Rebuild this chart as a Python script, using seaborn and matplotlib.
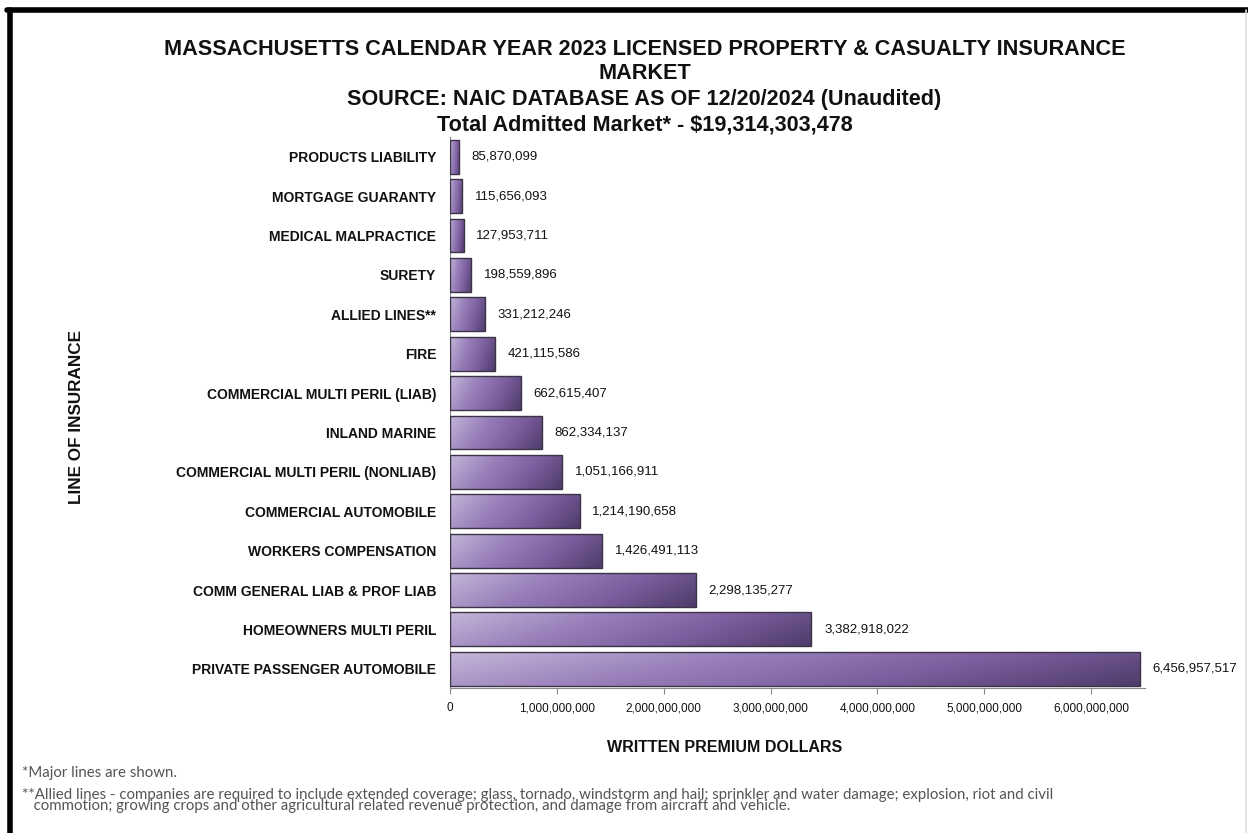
import numpy as np
import pandas as pd
import matplotlib
matplotlib.use("Agg")
import matplotlib.pyplot as plt
from matplotlib.colors import LinearSegmentedColormap
from matplotlib.ticker import FuncFormatter, MultipleLocator
from matplotlib.lines import Line2D
import seaborn as sns

# Lines of insurance and 2023 written premium (USD)
lines = [
    "PRODUCTS LIABILITY",
    "MORTGAGE GUARANTY",
    "MEDICAL MALPRACTICE",
    "SURETY",
    "ALLIED LINES**",
    "FIRE",
    "COMMERCIAL MULTI PERIL (LIAB)",
    "INLAND MARINE",
    "COMMERCIAL MULTI PERIL (NONLIAB)",
    "COMMERCIAL AUTOMOBILE",
    "WORKERS COMPENSATION",
    "COMM GENERAL LIAB & PROF LIAB",
    "HOMEOWNERS MULTI PERIL",
    "PRIVATE PASSENGER AUTOMOBILE",
]
premiums = [
    85870099,
    115656093,
    127953711,
    198559896,
    331212246,
    421115586,
    662615407,
    862334137,
    1051166911,
    1214190658,
    1426491113,
    2298135277,
    3382918022,
    6456957517,
]

title_lines = [
    "MASSACHUSETTS CALENDAR YEAR 2023 LICENSED PROPERTY & CASUALTY INSURANCE",
    "MARKET",
    "SOURCE: NAIC DATABASE AS OF 12/20/2024 (Unaudited)",
    "Total Admitted Market* - $19,314,303,478",
]
footnote_1 = "*Major lines are shown."
footnote_2 = ("**Allied lines - companies are required to include extended coverage; glass, tornado, windstorm and hail; "
              "sprinkler and water damage; explosion, riot and civil\n"
              "   commotion; growing crops and other agricultural related revenue protection, and damage from aircraft and vehicle.")

df = pd.DataFrame({"line": lines, "premium": premiums})

sns.set_theme(style="white")
plt.rcParams["font.family"] = ["Liberation Sans", "DejaVu Sans"]

fig = plt.figure(figsize=(12.48, 8.33), dpi=100)
ax = fig.add_axes([0.3606, 0.1735, 0.5565, 0.662])

sns.barplot(data=df, y="line", x="premium", orient="h", ax=ax,
            width=0.86, color="#7e63a0", edgecolor="#3b3346", linewidth=1.0)

# Diagonal lavender-to-plum gradient inside each bar
cmap = LinearSegmentedColormap.from_list(
    "plum", ["#c4b6d9", "#9a81bb", "#7a5e9d", "#4f3b6b"])
gx, gy = np.meshgrid(np.linspace(0, 1, 256), np.linspace(0, 1, 32))
grad = 0.8 * gx + 0.2 * gy
for patch in ax.patches:
    x0, y0 = patch.get_x(), patch.get_y()
    w, h = patch.get_width(), patch.get_height()
    patch.set_facecolor("none")
    patch.set_zorder(3)
    im = ax.imshow(grad, extent=(x0, x0 + w, y0 + h, y0), aspect="auto",
                   cmap=cmap, vmin=0, vmax=1, zorder=2, interpolation="bilinear")
    im.set_clip_path(patch)

ax.set_xlim(0, 6.5e9)
ax.set_ylim(len(lines) - 0.5, -0.5)
ax.set_aspect("auto")

# Value labels at the end of each bar
for i, v in enumerate(premiums):
    ax.annotate(f"{v:,}", xy=(v, i), xytext=(9, 0), textcoords="offset points",
                va="center", ha="left", fontsize=9.5, color="#111111")

ax.xaxis.set_major_locator(MultipleLocator(1e9))
ax.xaxis.set_major_formatter(FuncFormatter(lambda x, p: f"{int(x):,}"))
ax.tick_params(axis="x", labelsize=8.5, length=4, width=0.8, color="#888888",
               direction="out", bottom=True, pad=6, labelcolor="#111111")
ax.tick_params(axis="y", labelsize=10, length=0, pad=10, labelcolor="#111111")
for lbl in ax.get_yticklabels():
    lbl.set_fontweight("bold")

ax.set_ylabel("")
ax.set_xlabel("WRITTEN PREMIUM DOLLARS", fontsize=11.5, fontweight="bold",
              color="#111111")
ax.xaxis.set_label_coords(0.396, -0.093)
for side in ("top", "right"):
    ax.spines[side].set_visible(False)
for side in ("left", "bottom"):
    ax.spines[side].set_color("#888888")
    ax.spines[side].set_linewidth(0.8)

fig.text(0.061, 0.499, "LINE OF INSURANCE", rotation=90, ha="center", va="center",
         fontsize=12.3, fontweight="bold", color="#111111")

# Title block
title_y = [0.941, 0.912, 0.880, 0.850]
for t, yy in zip(title_lines, title_y):
    fig.text(0.5165, yy, t, ha="center", va="center", fontsize=15.6,
             fontweight="bold", color="#111111")

# Footnotes
foot_font = ["Lato", "DejaVu Sans"]
fig.text(0.018, 0.072, footnote_1, ha="left", va="center", fontsize=10.8,
         color="#555555", family=foot_font)
fig.text(0.018, 0.039, footnote_2, ha="left", va="center", fontsize=10.8,
         color="#555555", linespacing=0.72, family=foot_font)

# Page frame
fig.add_artist(Line2D([0.008, 0.008], [0.0, 0.988], transform=fig.transFigure,
                      color="black", linewidth=4))
fig.add_artist(Line2D([0.006, 1.0], [0.988, 0.988], transform=fig.transFigure,
                      color="black", linewidth=4))
fig.add_artist(Line2D([0.9985, 0.9985], [0.0, 0.988], transform=fig.transFigure,
                      color="#dddddd", linewidth=1.2))

fig.savefig("out.png", dpi=100, facecolor="white")
